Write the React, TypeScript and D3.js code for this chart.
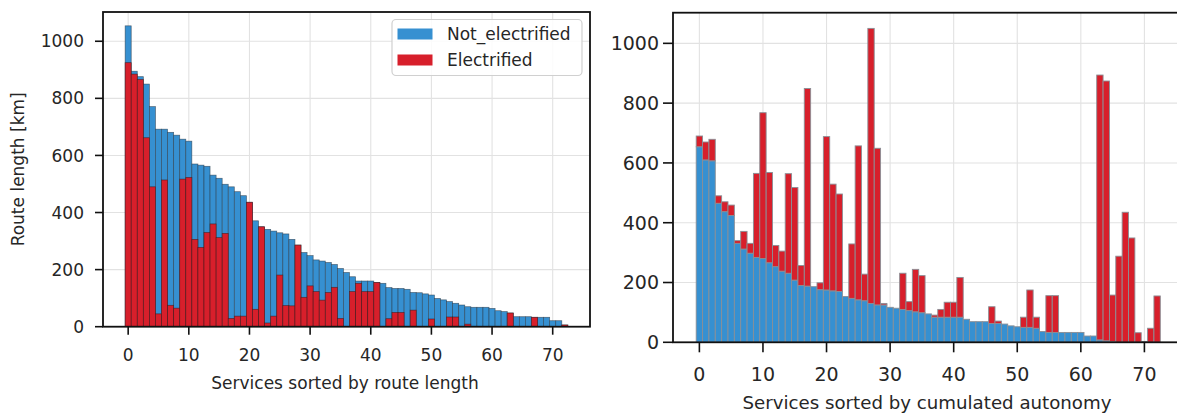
import React from 'react';
import * as d3 from 'd3';

// ---------- data ----------
const services: number[] = d3.range(73);

// Left panel: services sorted by route length (total route length, electrified part)
const leftTotal: number[] = [
  1054, 895, 876, 850, 771, 692, 692, 681, 671, 657,
  650, 570, 566, 562, 531, 520, 499, 490, 473, 459,
  436, 371, 350, 341, 335, 329, 325, 306, 286, 260,
  249, 234, 230, 225, 218, 204, 190, 175, 160, 160,
  160, 155, 152, 137, 134, 134, 131, 120, 119, 115,
  111, 99, 94, 88, 82, 76, 70, 68, 68, 68,
  64, 56, 53, 48, 35, 35, 35, 33, 33, 33,
  21, 21, 6,
];
const leftElectrified: number[] = [
  925, 885, 866, 662, 490, 45, 514, 75, 65, 517,
  523, 306, 278, 330, 360, 312, 327, 29, 37, 37,
  436, 61, 350, 13, 37, 181, 74, 73, 286, 103,
  143, 123, 93, 120, 138, 29, 0, 123, 152, 123,
  123, 155, 0, 28, 50, 50, 0, 58, 0, 0,
  27, 0, 0, 34, 34, 0, 9, 0, 0, 0,
  0, 0, 0, 48, 0, 0, 0, 33, 0, 0,
  0, 0, 6,
];

// Right panel: services sorted by cumulated autonomy
const rightNotElectrified: number[] = [
  654, 610, 607, 465, 437, 424, 331, 312, 298, 284,
  280, 266, 253, 238, 231, 208, 190, 188, 186, 176,
  175, 172, 170, 153, 147, 142, 139, 130, 125, 125,
  117, 114, 110, 106, 102, 99, 95, 84, 84, 84,
  84, 84, 77, 69, 69, 69, 63, 63, 61, 55,
  52, 50, 50, 47, 36, 33, 33, 33, 33, 33,
  33, 21, 21, 8, 5, 2, 0, 0, 0, 0,
  0, 0, 0,
];
const rightElectrified: number[] = [
  36, 60, 72, 25, 33, 35, 9, 59, 33, 281,
  488, 302, 71, 67, 333, 310, 67, 661, 0, 23,
  513, 357, 326, 0, 182, 515, 89, 920, 524, 5,
  0, 0, 121, 30, 142, 124, 0, 7, 26, 50,
  50, 133, 0, 0, 0, 0, 56, 8, 0, 0,
  0, 34, 125, 37, 0, 123, 123, 0, 0, 0,
  0, 0, 0, 886, 869, 156, 288, 435, 349, 32,
  3, 47, 155,
];

const xTicks: number[] = [0, 10, 20, 30, 40, 50, 60, 70];
const yTicks: number[] = [0, 200, 400, 600, 800, 1000];
const legendLabels: string[] = ['Not_electrified', 'Electrified'];

const BLUE = '#3690d1';
const RED = '#d71f2b';
const TEXT = '#262626';
const FONT = '"DejaVu Sans", sans-serif';

const xDomain: [number, number] = [-4.15, 76.15];
const yDomain: [number, number] = [0, 1102.5];

type PanelProps = {
  left: number; right: number; top: number; bottom: number;
  fontSize: number; labelFontSize: number; tickLen: number; labelGap: number;
  xLabel: string; xLabelX: number; xLabelY: number; xTickY: number;
  children: (x: d3.ScaleLinear<number, number>, y: d3.ScaleLinear<number, number>) => React.ReactNode;
  yLabel?: string; yLabelX?: number;
};

function Panel(p: PanelProps) {
  const x = d3.scaleLinear().domain(xDomain).range([p.left, p.right]);
  const y = d3.scaleLinear().domain(yDomain).range([p.bottom, p.top]);
  return (
    <g>
      <defs>
        <clipPath id={`clip-${p.left}`}>
          <rect x={p.left} y={p.top} width={p.right - p.left} height={p.bottom - p.top} />
        </clipPath>
      </defs>
      {/* grid */}
      <g stroke="#e2e2e2" strokeWidth={1.1}>
        {xTicks.map((t) => (
          <line key={`gx${t}`} x1={x(t)} x2={x(t)} y1={p.top} y2={p.bottom} />
        ))}
        {yTicks.map((t) => (
          <line key={`gy${t}`} x1={p.left} x2={p.right} y1={y(t)} y2={y(t)} />
        ))}
      </g>
      <g clipPath={`url(#clip-${p.left})`}>{p.children(x, y)}</g>
      {/* spines */}
      <rect x={p.left} y={p.top} width={p.right - p.left} height={p.bottom - p.top}
        fill="none" stroke="#111" strokeWidth={1.8} />
      {/* x ticks */}
      {xTicks.map((t) => (
        <g key={`xt${t}`}>
          <line x1={x(t)} x2={x(t)} y1={p.bottom} y2={p.bottom + p.tickLen} stroke="#111" strokeWidth={1.6} />
          <text x={x(t)} y={p.xTickY} textAnchor="middle" fontSize={p.fontSize} fill={TEXT} fontFamily={FONT}>{t}</text>
        </g>
      ))}
      {/* y ticks */}
      {yTicks.map((t) => (
        <g key={`yt${t}`}>
          <line x1={p.left - p.tickLen} x2={p.left} y1={y(t)} y2={y(t)} stroke="#111" strokeWidth={1.6} />
          <text x={p.left - p.tickLen - p.labelGap} y={y(t)} dy="0.36em" textAnchor="end"
            fontSize={p.fontSize} fill={TEXT} fontFamily={FONT}>{t}</text>
        </g>
      ))}
      <text x={p.xLabelX} y={p.xLabelY} textAnchor="middle"
        fontSize={p.labelFontSize} fill={TEXT} fontFamily={FONT}>{p.xLabel}</text>
      {p.yLabel && (
        <text transform={`translate(${p.yLabelX},${(p.top + p.bottom) / 2}) rotate(-90)`} textAnchor="middle"
          fontSize={p.labelFontSize} fill={TEXT} fontFamily={FONT}>{p.yLabel}</text>
      )}
    </g>
  );
}

export default function App() {
  return (
    <svg width={1177} height={414} style={{ position: 'absolute', left: 0, top: 0, background: '#fff' }}>
      <rect x={0} y={0} width={1177} height={414} fill="#fff" />
      <Panel left={103} right={590} top={12} bottom={326.7} fontSize={17} labelFontSize={17} tickLen={8} labelGap={11}
        xLabel="Services sorted by route length" xLabelX={345} xLabelY={389} xTickY={361}
        yLabel="Route length [km]" yLabelX={24}>
        {(x, y) => {
          const w = x(1) - x(0);
          return (
            <g>
              {services.map((i) => (
                <rect key={`lb${i}`} x={x(i) - w / 2} width={w} y={y(leftTotal[i])}
                  height={y(0) - y(leftTotal[i])} fill={BLUE} stroke="#2b3a48" strokeOpacity={0.7} strokeWidth={0.7} />
              ))}
              {services.map((i) => leftElectrified[i] > 0 ? (
                <rect key={`lr${i}`} x={x(i) - w / 2} width={w} y={y(leftElectrified[i])}
                  height={y(0) - y(leftElectrified[i])} fill={RED} stroke="#3a1a1a" strokeOpacity={0.7} strokeWidth={0.7} />
              ) : null)}
            </g>
          );
        }}
      </Panel>
      {/* legend */}
      <g fontFamily={FONT}>
        <rect x={392} y={19.5} width={190} height={56} rx={4} fill="#fff" fillOpacity={0.85} stroke="#d0d0d0" strokeWidth={1.2} />
        <rect x={397.5} y={28.5} width={35} height={11} fill={BLUE} />
        <rect x={397.5} y={54.5} width={35} height={11} fill={RED} />
        <text x={447} y={40} fontSize={17} fill={TEXT}>{legendLabels[0]}</text>
        <text x={447} y={66} fontSize={17} fill={TEXT}>{legendLabels[1]}</text>
      </g>
      <Panel left={673} right={1183.5} top={12.7} bottom={342.3} fontSize={19} labelFontSize={18.2} tickLen={10} labelGap={4}
        xLabel="Services sorted by cumulated autonomy" xLabelX={927} xLabelY={409} xTickY={381}>
        {(x, y) => {
          const w = x(1) - x(0);
          return (
            <g>
              {services.map((i) => rightNotElectrified[i] > 0 ? (
                <rect key={`rb${i}`} x={x(i) - w / 2} width={w} y={y(rightNotElectrified[i])}
                  height={y(0) - y(rightNotElectrified[i])} fill={BLUE} stroke="#8a8f96" strokeWidth={0.9} />
              ) : null)}
              {services.map((i) => rightElectrified[i] > 0 ? (
                <rect key={`rr${i}`} x={x(i) - w / 2} width={w}
                  y={y(rightNotElectrified[i] + rightElectrified[i])}
                  height={y(rightNotElectrified[i]) - y(rightNotElectrified[i] + rightElectrified[i])}
                  fill={RED} stroke="#8a8f96" strokeWidth={0.9} />
              ) : null)}
            </g>
          );
        }}
      </Panel>
    </svg>
  );
}
